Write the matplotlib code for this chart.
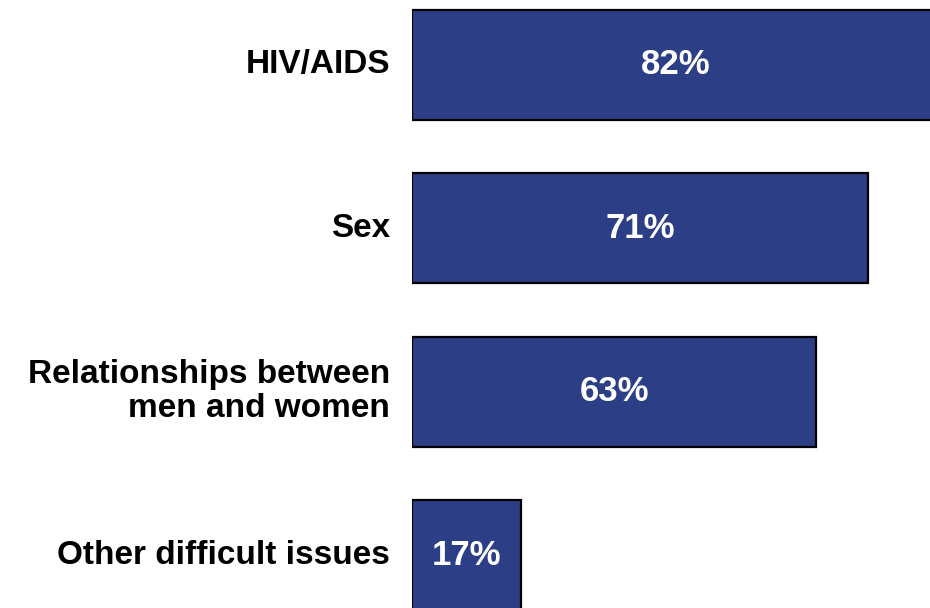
import matplotlib
matplotlib.use("Agg")
import matplotlib.pyplot as plt

categories = ["HIV/AIDS", "Sex", "Relationships between\nmen and women", "Other difficult issues"]
values = [82, 71, 63, 17]
value_labels = ["82%", "71%", "63%", "17%"]

plt.rcParams['font.family'] = ['Liberation Sans', 'DejaVu Sans']

fig = plt.figure(figsize=(9.3, 6.08), dpi=100)
# axes spans beyond right edge so the top bar is clipped like the reference
left_px = 412
px_per_pct = 6.42
ax = fig.add_axes([left_px / 930, 0, (100 * px_per_pct) / 930, 1])
ax.set_xlim(0, 100)
unit = 163.4
ax.set_ylim(3 + 53 / unit, -65 / unit)

ypos = list(range(len(categories)))
bar_color = "#2B3E86"
ax.barh(ypos, values, height=110 / unit, color=bar_color, edgecolor="black", linewidth=1.6)

for y, v, lab in zip(ypos, values, value_labels):
    ax.text(v / 2, y, lab, ha="center", va="center", color="white",
            fontsize=25, fontweight="bold")

for y, cat in zip(ypos, categories):
    ax.text(-22 / px_per_pct, y, cat, ha="right", va="center", color="black",
            fontsize=24, fontweight="bold", multialignment="right", linespacing=1.12)

ax.axis("off")
fig.savefig("out.png", dpi=100)
